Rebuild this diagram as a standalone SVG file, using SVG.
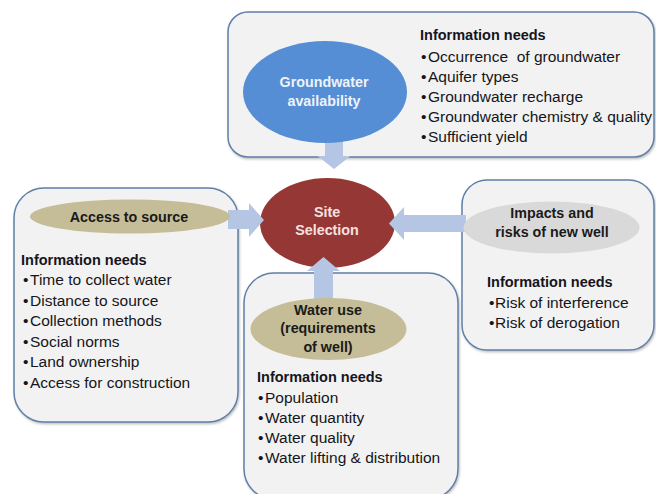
<svg xmlns="http://www.w3.org/2000/svg" width="656" height="494" viewBox="0 0 656 494">
<defs>
<style>
.box{fill:#f2f2f2;stroke:#6080aa;stroke-width:1.5;filter:url(#sh)}
.arrow{fill:#b4c6e4}
.t{font-family:"Liberation Sans",Arial,sans-serif;fill:#151520}
.h{font-size:14.5px;font-weight:bold}
.i{font-size:15.5px}
.lab{font-family:"Liberation Sans",Arial,sans-serif;font-size:14.3px;font-weight:bold;text-anchor:middle}
.dark{fill:#1a1a1a}
</style>
<filter id="sh" x="-5%" y="-5%" width="110%" height="110%">
<feDropShadow dx="1" dy="1.5" stdDeviation="1" flood-color="#808080" flood-opacity="0.5"/>
</filter>
</defs>
<rect width="656" height="494" fill="#ffffff"/>

<g id="groundwater">
<rect class="box" x="228" y="12" width="426" height="145" rx="20"/>
</g>
<g id="access">
<rect class="box" x="14" y="188" width="224" height="234" rx="30"/>
</g>
<g id="impacts">
<rect class="box" x="462" y="180" width="192" height="170" rx="25"/>
</g>
<g id="wateruse">
<rect class="box" x="244" y="273" width="214" height="226" rx="30"/>
</g>

<g id="site">
<ellipse cx="327.5" cy="223" rx="67.5" ry="45" fill="#953735"/>
</g>

<g id="connectors">
<polygon class="arrow" points="325,140 343,140 343,156 350.5,156 334,169 317.5,156 325,156"/>
<polygon class="arrow" points="228,210 249,210 249,203 264,220 249,237 249,229 228,229"/>
<polygon class="arrow" points="466,215 404,215 404,207 389,223.5 404,240 404,232 466,232"/>
<polygon class="arrow" points="314,300 314,271 307,271 323.5,257 340,271 333,271 333,300"/>
</g>

<g id="groundwater-content">
<ellipse cx="325" cy="92" rx="82" ry="51" fill="#558ed5"/>
<text class="lab" x="324" y="87" fill="#eef3fb">Groundwater</text>
<text class="lab" x="324" y="106" fill="#eef3fb">availability</text>
<text class="t h" x="420" y="40">Information needs</text>
<g class="t i">
<text x="421" y="62">•</text><text x="428" y="62" xml:space="preserve">Occurrence  of groundwater</text>
<text x="421" y="82">•</text><text x="428" y="82">Aquifer types</text>
<text x="421" y="102">•</text><text x="428" y="102">Groundwater recharge</text>
<text x="421" y="122">•</text><text x="428" y="122">Groundwater chemistry &amp; quality</text>
<text x="421" y="142">•</text><text x="428" y="142">Sufficient yield</text>
</g>
</g>

<g id="site-content">
<text class="lab" x="327" y="217" fill="#f5e1e0">Site</text>
<text class="lab" x="327" y="235" fill="#f5e1e0">Selection</text>
</g>

<g id="access-content">
<ellipse cx="130" cy="216.5" rx="100" ry="17" fill="#c4bd97"/>
<text class="lab dark" x="129" y="222">Access to source</text>
<text class="t h" x="21" y="265">Information needs</text>
<g class="t i">
<text x="23" y="285">•</text><text x="30" y="285">Time to collect water</text>
<text x="23" y="305.5">•</text><text x="30" y="305.5">Distance to source</text>
<text x="23" y="326">•</text><text x="30" y="326">Collection methods</text>
<text x="23" y="346.5">•</text><text x="30" y="346.5">Social norms</text>
<text x="23" y="367">•</text><text x="30" y="367">Land ownership</text>
<text x="23" y="387.5">•</text><text x="30" y="387.5">Access for construction</text>
</g>
</g>

<g id="impacts-content">
<ellipse cx="551.5" cy="227.5" rx="88" ry="26" fill="#d9d9d9"/>
<text class="lab dark" x="552" y="218">Impacts and</text>
<text class="lab dark" x="552" y="237">risks of new well</text>
<text class="t h" x="487" y="287">Information needs</text>
<g class="t i">
<text x="489" y="308">•</text><text x="495" y="308">Risk of interference</text>
<text x="489" y="328">•</text><text x="495" y="328">Risk of derogation</text>
</g>
</g>

<g id="wateruse-content">
<ellipse cx="328.5" cy="329" rx="78" ry="31" fill="#c4bd97"/>
<text class="lab dark" x="328" y="315">Water use</text>
<text class="lab dark" x="328" y="333">(requirements</text>
<text class="lab dark" x="328" y="352">of well)</text>
<text class="t h" x="257" y="382">Information needs</text>
<g class="t i">
<text x="258" y="403">•</text><text x="265" y="403">Population</text>
<text x="258" y="423">•</text><text x="265" y="423">Water quantity</text>
<text x="258" y="443">•</text><text x="265" y="443">Water quality</text>
<text x="258" y="463">•</text><text x="265" y="463">Water lifting &amp; distribution</text>
</g>
</g>
</svg>
